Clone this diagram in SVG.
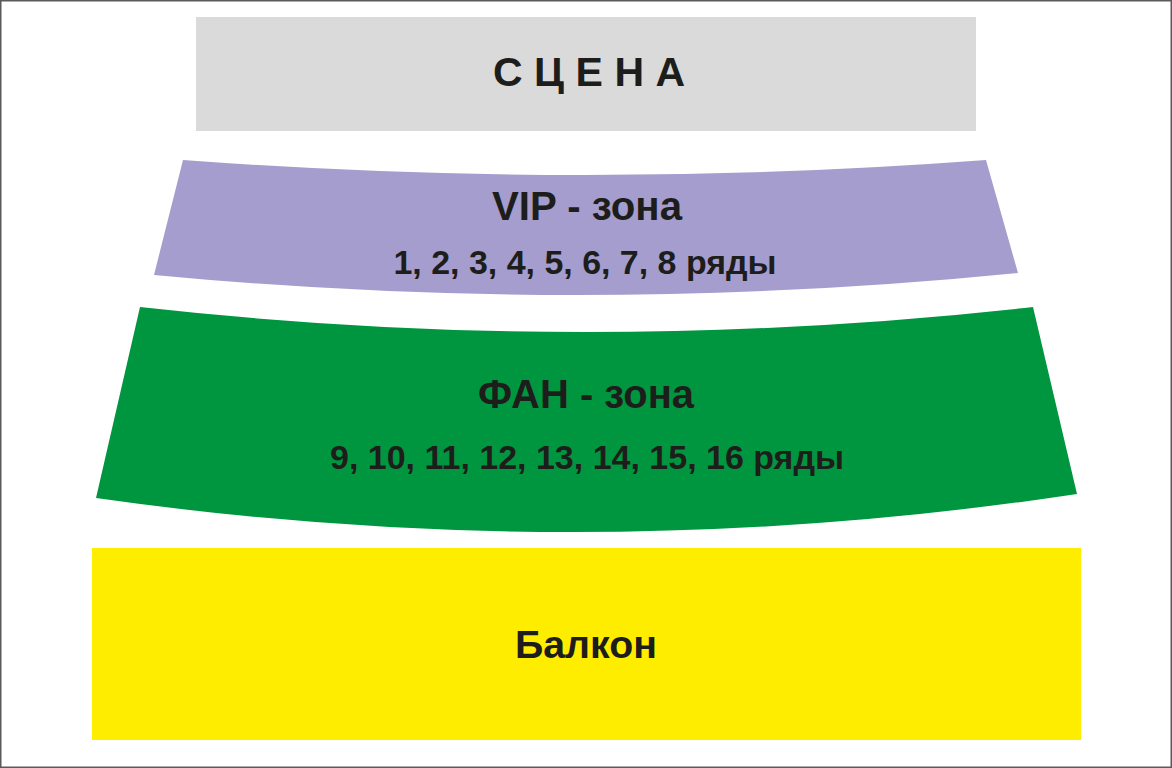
<svg xmlns="http://www.w3.org/2000/svg" width="1172" height="768" viewBox="0 0 1172 768">
<style>
text{font-family:"Liberation Sans",Arial,sans-serif;font-weight:bold;fill:#1d1d1b}
.mid{text-anchor:middle}
</style>
<rect x="0" y="0" width="1172" height="768" fill="#ffffff"/>
<rect x="0.75" y="0.75" width="1170.5" height="766.5" fill="none" stroke="#5a5a5a" stroke-width="1.5"/>
<g id="stage">
<rect x="196" y="17" width="780" height="114" fill="#dadada"/>
<text x="493" y="86" font-size="41" letter-spacing="11.5">СЦЕНА</text>
</g>
<g id="vip">
<path d="M183,160 Q585,190 986,160 L1018,273 Q586,316 154,275 Z" fill="#a59dcd"/>
<text class="mid" x="587" y="220" font-size="40" textLength="190" lengthAdjust="spacingAndGlyphs">VIP - зона</text>
<text class="mid" x="585" y="274" font-size="34" textLength="383" lengthAdjust="spacingAndGlyphs">1, 2, 3, 4, 5, 6, 7, 8 ряды</text>
</g>
<g id="fan">
<path d="M140,307 Q586,357 1033,307 L1077,494 Q586,568 96,498 Z" fill="#009640"/>
<text class="mid" x="586" y="408" font-size="40" textLength="216" lengthAdjust="spacingAndGlyphs">ФАН - зона</text>
<text class="mid" x="587" y="469" font-size="34" textLength="514" lengthAdjust="spacingAndGlyphs">9, 10, 11, 12, 13, 14, 15, 16 ряды</text>
</g>
<g id="balcony">
<rect x="92" y="548" width="989" height="192" fill="#ffed00"/>
<text class="mid" x="586" y="658" font-size="38" textLength="142" lengthAdjust="spacingAndGlyphs">Балкон</text>
</g>
<g id="connectors"/>
</svg>
